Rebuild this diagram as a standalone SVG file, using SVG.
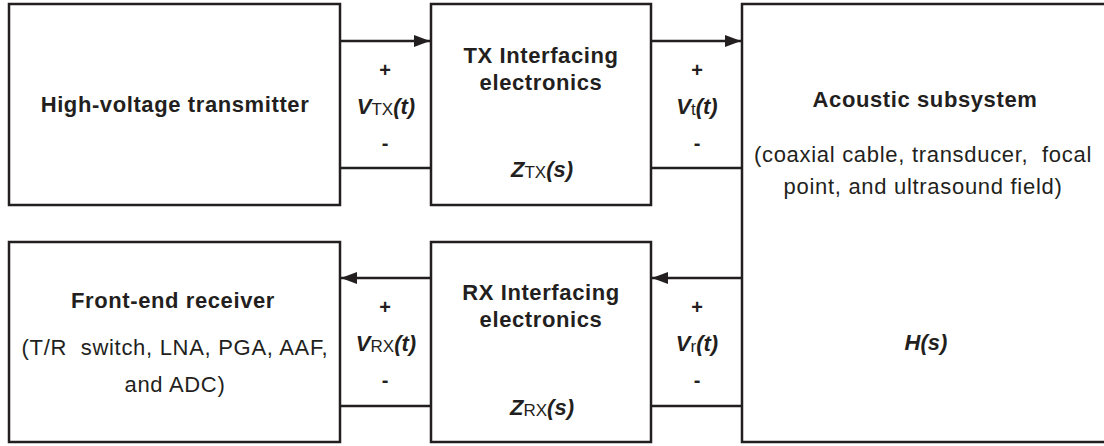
<svg xmlns="http://www.w3.org/2000/svg" width="1104" height="446" viewBox="0 0 1104 446">
<style>
.box{fill:#fff;stroke:#231f20;stroke-width:2.5}
.wire{stroke:#231f20;stroke-width:2.5;fill:none}
text{font-family:"Liberation Sans",Arial,sans-serif;fill:#231f20;text-anchor:middle}
.t{font-size:22px;font-weight:bold;letter-spacing:0.6px}
.r{font-size:22px;letter-spacing:0.7px}
.v{font-size:22px;font-weight:bold;font-style:italic}
.s{font-size:17px;font-weight:normal;font-style:normal}
.pm{font-size:20px;font-weight:bold}
</style>
<defs>
<marker id="ah" viewBox="0 0 16 12" refX="16" refY="6" markerWidth="16" markerHeight="12" markerUnits="userSpaceOnUse" orient="auto">
<path d="M0,0 L16,6 L0,12 z" fill="#231f20"/>
</marker>
</defs>
<g id="connectors">
<line class="wire" x1="340" y1="41" x2="430" y2="41" marker-end="url(#ah)"/>
<line class="wire" x1="340" y1="168" x2="431" y2="168"/>
<line class="wire" x1="651" y1="41" x2="741" y2="41" marker-end="url(#ah)"/>
<line class="wire" x1="651" y1="168" x2="742" y2="168"/>
<line class="wire" x1="742" y1="278" x2="652" y2="278" marker-end="url(#ah)"/>
<line class="wire" x1="742" y1="406" x2="651" y2="406"/>
<line class="wire" x1="431" y1="278" x2="341" y2="278" marker-end="url(#ah)"/>
<line class="wire" x1="431" y1="406" x2="340" y2="406"/>
<text class="pm" x="385" y="77">+</text>
<text class="v" x="386" y="114">V<tspan class="s" dy="1">TX</tspan><tspan dy="-1">(t)</tspan></text>
<text class="pm" x="385" y="150">-</text>
<text class="pm" x="697" y="77">+</text>
<text class="v" x="697" y="114">V<tspan class="s" dy="1">t</tspan><tspan dy="-1">(t)</tspan></text>
<text class="pm" x="697" y="150">-</text>
<text class="pm" x="385" y="314">+</text>
<text class="v" x="386" y="351">V<tspan class="s" dy="1">RX</tspan><tspan dy="-1">(t)</tspan></text>
<text class="pm" x="385" y="387">-</text>
<text class="pm" x="697" y="314">+</text>
<text class="v" x="697" y="351">V<tspan class="s" dy="1">r</tspan><tspan dy="-1">(t)</tspan></text>
<text class="pm" x="697" y="387">-</text>
</g>
<g id="hv-transmitter">
<rect class="box" x="9" y="4" width="331" height="201"/>
<text class="t" x="175" y="112">High-voltage transmitter</text>
</g>
<g id="tx-interfacing">
<rect class="box" x="431" y="4" width="220" height="201"/>
<text class="t" x="541" y="63">TX Interfacing</text>
<text class="t" x="541" y="90">electronics</text>
<text class="v" x="542" y="177">Z<tspan class="s" dy="1">TX</tspan><tspan dy="-1">(s)</tspan></text>
</g>
<g id="acoustic">
<rect class="box" x="742" y="4" width="380" height="438"/>
<text class="t" x="925" y="107">Acoustic subsystem</text>
<text class="r" x="923" y="162" xml:space="preserve">(coaxial cable, transducer,  focal</text>
<text class="r" x="923" y="194">point, and ultrasound field)</text>
<text class="v" x="926" y="350">H(s)</text>
</g>
<g id="front-end-receiver">
<rect class="box" x="9" y="242" width="331" height="200"/>
<text class="t" x="173" y="308">Front-end receiver</text>
<text class="r" x="175" y="355" xml:space="preserve">(T/R  switch, LNA, PGA, AAF,</text>
<text class="r" x="175" y="392">and ADC)</text>
</g>
<g id="rx-interfacing">
<rect class="box" x="431" y="242" width="220" height="200"/>
<text class="t" x="541" y="300">RX Interfacing</text>
<text class="t" x="541" y="327">electronics</text>
<text class="v" x="542" y="415">Z<tspan class="s" dy="1">RX</tspan><tspan dy="-1">(s)</tspan></text>
</g>
</svg>
